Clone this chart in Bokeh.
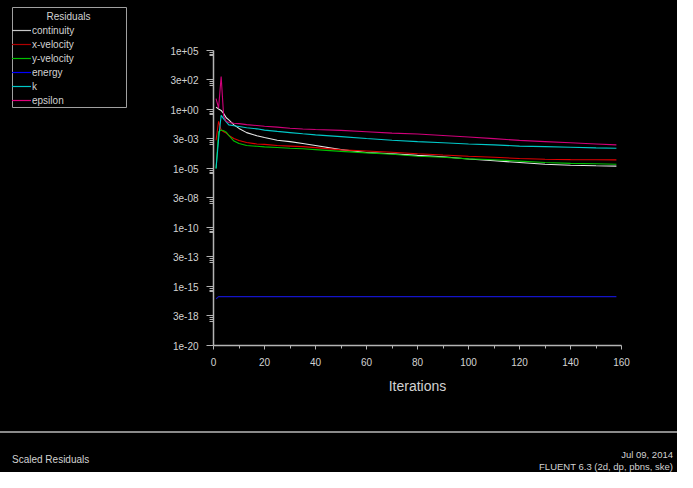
from bokeh.plotting import figure
from bokeh.models import (Range1d, FixedTicker, CustomJSTickFormatter, Legend, LegendItem, Div,
                          Label)
from bokeh.layouts import column
from bokeh.embed import file_html
from bokeh.resources import INLINE

# ---------------- data ----------------
iterations = [1, 2, 3, 4, 5, 6, 8, 10, 13, 17, 20, 25, 30, 35, 40, 50, 60, 70, 80,
              90, 100, 110, 120, 130, 140, 150, 158]

continuity = [1.6e+00, 1.1e+00, 8.3e-01, 4.5e-01, 2.0e-01, 1.3e-01, 5.0e-02, 2.5e-02,
              1.1e-02, 6.0e-03, 4.2e-03, 2.5e-03, 1.9e-03, 1.3e-03, 8.9e-04, 4.0e-04,
              2.3e-04, 1.8e-04, 1.3e-04, 1.0e-04, 6.3e-05, 4.5e-05, 3.2e-05, 2.3e-05,
              1.9e-05, 1.7e-05, 1.6e-05]

x_velocity = [2.5e-03, 1.0e-01, 1.8e-02, 1.3e-02, 1.0e-02, 6.3e-03, 3.5e-03, 2.4e-03,
              1.6e-03, 1.2e-03, 1.1e-03, 8.9e-04, 7.9e-04, 7.1e-04, 5.9e-04, 3.8e-04,
              3.0e-04, 2.4e-04, 1.8e-04, 1.4e-04, 1.1e-04, 8.9e-05, 7.1e-05, 6.0e-05,
              5.6e-05, 5.5e-05, 5.4e-05]

y_velocity = [1.0e-05, 1.3e-02, 1.8e-02, 1.6e-02, 1.2e-02, 6.3e-03, 2.1e-03, 1.3e-03,
              8.9e-04, 7.6e-04, 6.8e-04, 6.0e-04, 5.2e-04, 4.7e-04, 4.0e-04, 2.8e-04,
              2.1e-04, 1.6e-04, 1.1e-04, 8.9e-05, 6.6e-05, 5.5e-05, 4.2e-05, 3.2e-05,
              2.7e-05, 2.5e-05, 2.3e-05]

energy = [9.0e-17, 1.4e-16, 1.4e-16, 1.4e-16, 1.4e-16, 1.4e-16, 1.4e-16, 1.4e-16,
          1.4e-16, 1.4e-16, 1.4e-16, 1.4e-16, 1.4e-16, 1.4e-16, 1.4e-16, 1.4e-16,
          1.4e-16, 1.4e-16, 1.4e-16, 1.4e-16, 1.4e-16, 1.4e-16, 1.4e-16, 1.4e-16,
          1.4e-16, 1.4e-16, 1.4e-16]

k = [1.0e-05, 3.2e-03, 3.2e-01, 1.6e-01, 8.9e-02, 5.0e-02, 4.2e-02, 3.6e-02,
     2.8e-02, 2.3e-02, 1.8e-02, 1.4e-02, 1.1e-02, 8.7e-03, 7.1e-03, 5.0e-03,
     3.5e-03, 2.5e-03, 1.9e-03, 1.5e-03, 1.2e-03, 1.0e-03, 7.9e-04, 7.1e-04,
     6.3e-04, 5.6e-04, 5.2e-04]

epsilon = [8.5e+00, 1.3e+00, 6.3e+02, 2.5e-01, 1.0e-01, 7.9e-02, 6.9e-02, 6.3e-02,
           5.2e-02, 4.4e-02, 3.8e-02, 3.2e-02, 2.6e-02, 2.2e-02, 2.0e-02, 1.7e-02,
           1.3e-02, 1.0e-02, 8.3e-03, 6.3e-03, 4.7e-03, 3.4e-03, 2.4e-03, 1.9e-03,
           1.5e-03, 1.2e-03, 1.0e-03]

series_names = ["continuity", "x-velocity", "y-velocity", "energy", "k", "epsilon"]
legend_title = "Residuals"

x_tick_values = [0, 20, 40, 60, 80, 100, 120, 140, 160]
x_minor_values = [10, 30, 50, 70, 90, 110, 130, 150]

y_tick_values = [1e+05, 3.1623e+02, 1e+00, 3.1623e-03, 1e-05, 3.1623e-08, 1e-10,
                 3.1623e-13, 1e-15, 3.1623e-18, 1e-20]
y_tick_labels = ["1e+05", "3e+02", "1e+00", "3e-03", "1e-05", "3e-08", "1e-10",
                 "3e-13", "1e-15", "3e-18", "1e-20"]

footer_left = "Scaled Residuals"
footer_right = ["Jul 09, 2014", "FLUENT 6.3 (2d, dp, pbns, ske)"]

# ---------------- styling ----------------
FONT = "Liberation Sans"
BG = "#000000"
AXIS = "#b4b4b4"
TXT = "#d2d2d2"
colors = ["#e6e6e6", "#e00000", "#00c000", "#1414c8", "#00c8c8", "#d0007a"]
legend_colors = ["#c8c8c8", "#b00000", "#00c000", "#0000ff", "#00c8c8", "#e0007a"]

data = [continuity, x_velocity, y_velocity, energy, k, epsilon]

# ---------------- main residual plot ----------------
p = figure(width=677, height=431, x_range=Range1d(0, 160), y_range=Range1d(1e-20, 1e+05),
           y_axis_type="log", output_backend="svg", toolbar_location=None,
           min_border_left=213, min_border_right=56, min_border_top=50, min_border_bottom=86,
           background_fill_color=BG, border_fill_color=BG, outline_line_color=None)
p.xgrid.visible = False
p.ygrid.visible = False

minor_y = [v * m for v in y_tick_values[:-1] for m in (0.7, 0.5, 0.35)]
p.yaxis.ticker = FixedTicker(ticks=y_tick_values, minor_ticks=minor_y)
p.yaxis.formatter = CustomJSTickFormatter(
    args=dict(vals=y_tick_values, labels=y_tick_labels),
    code="""
    for (let i = 0; i < vals.length; i++) {
        if (Math.abs(Math.log10(vals[i]) - Math.log10(tick)) < 1e-3) return labels[i];
    }
    return "";
    """)
p.xaxis.ticker = FixedTicker(ticks=x_tick_values, minor_ticks=x_minor_values)

for ax in (p.xaxis[0], p.yaxis[0]):
    ax.axis_line_color = AXIS
    ax.axis_line_width = 1.5
    ax.major_tick_line_color = AXIS
    ax.minor_tick_line_color = AXIS
    ax.major_tick_in = 0
    ax.minor_tick_in = 0
    ax.major_label_text_font = FONT
    ax.major_label_text_font_size = "10px"
    ax.major_label_text_color = TXT

p.yaxis.major_tick_out = 7
p.yaxis.minor_tick_out = 4
p.yaxis.major_label_standoff = 8
p.xaxis.major_tick_out = 4
p.xaxis.minor_tick_out = 3
p.xaxis.major_label_standoff = 8
p.xaxis.axis_label = "Iterations"
p.xaxis.axis_label_text_font = FONT
p.xaxis.axis_label_text_font_size = "14px"
p.xaxis.axis_label_text_font_style = "normal"
p.xaxis.axis_label_text_color = TXT
p.xaxis.axis_label_standoff = 9

for vals, c in zip(data, colors):
    p.line(iterations, vals, line_color=c, line_width=1.1)

# ---------------- legend box (top-left, outside the plot frame) ----------------
# The series are re-drawn here only so that the legend has glyphs; the x range
# lies left of the first iteration, so nothing of them is visible in this box.
lf = figure(width=115, height=101, x_range=Range1d(-115, 0), y_range=Range1d(0, 101),
            output_backend="svg", toolbar_location=None, min_border=0,
            x_axis_location=None, y_axis_location=None,
            background_fill_color=BG, border_fill_color=BG,
            outline_line_color="#a0a0a0", outline_line_width=1,
            styles={"position": "absolute", "left": "12px", "top": "7px"})
lf.xgrid.visible = False
lf.ygrid.visible = False
leg_renderers = [lf.line(iterations, vals, line_color=c, line_width=1.2)
                 for vals, c in zip(data, legend_colors)]
items = [LegendItem(label=n, renderers=[r]) for n, r in zip(series_names, leg_renderers)]
legend = Legend(items=items, location=(-1, 2),
                padding=2, margin=0, spacing=2, label_height=12, glyph_height=12,
                glyph_width=20, label_standoff=1,
                label_text_font=FONT, label_text_font_size="10px", label_text_color=TXT,
                border_line_color=None, background_fill_alpha=0.0)
lf.add_layout(legend)
lf.add_layout(Label(x=-59, y=92, text=legend_title, text_align="center",
                    text_baseline="middle", text_font=FONT, text_font_size="10px",
                    text_color=TXT))

# ---------------- footer ----------------
footer_html = (
    '<div style="position:relative;width:677px;height:41px;box-sizing:border-box;'
    'background:#000;border-top:2px solid #8a8a8a;font-family:\'Liberation Sans\',sans-serif;'
    'color:#d2d2d2;">'
    '<span style="position:absolute;left:12px;top:21px;font-size:10px;line-height:12px;">'
    + footer_left + '</span>'
    '<span style="position:absolute;right:4px;top:16px;text-align:right;font-size:9.5px;'
    'line-height:12px;">' + footer_right[0] + '<br>' + footer_right[1] + '</span>'
    '</div>')
footer = Div(text=footer_html, width=677, height=41,
             styles={"background-color": "#000", "margin": "0", "padding": "0"})

layout = column(p, footer, spacing=0, styles={"background-color": "#000"})
open("out.html", "w").write(file_html([layout, lf], INLINE))
